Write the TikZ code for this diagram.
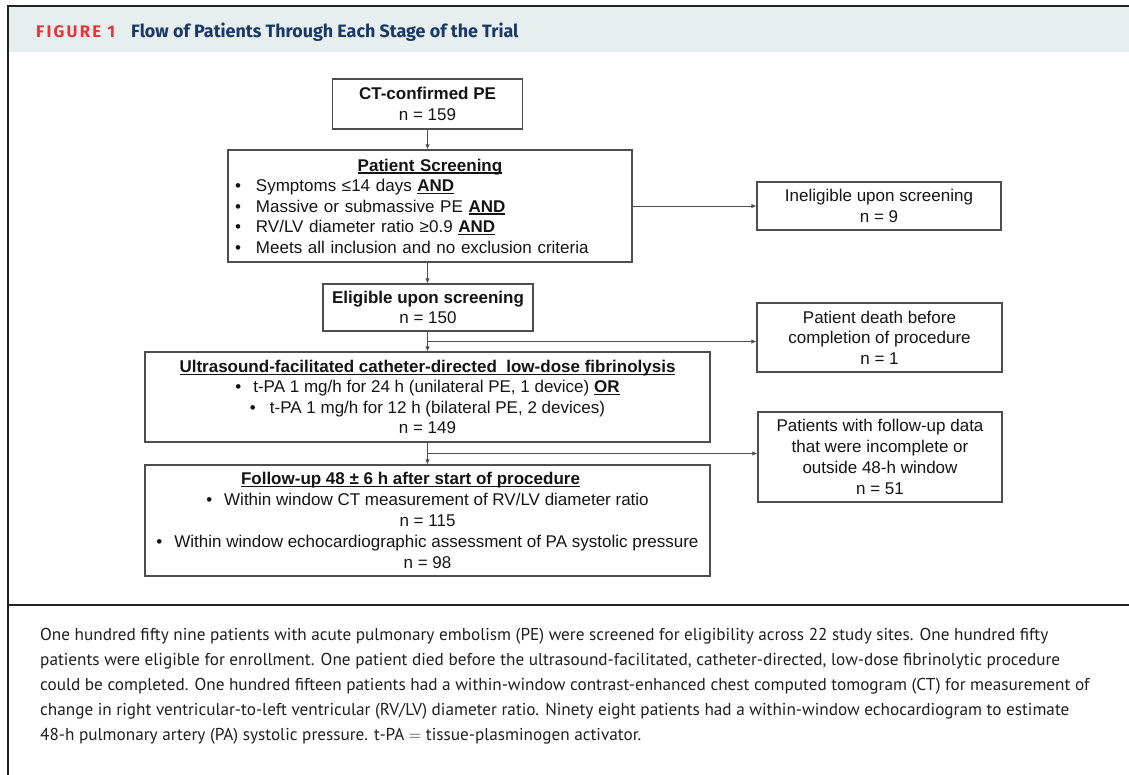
\documentclass[tikz,border=0pt]{standalone}
\usepackage{fontspec}
\setmainfont{Liberation Sans}
\newfontfamily\capfont{PT Sans}
\newfontfamily\headfont{Fira Sans}
\usetikzlibrary{arrows.meta,calc}
\definecolor{headbg}{HTML}{E6EFEE}
\definecolor{figred}{HTML}{E3363C}
\definecolor{navy}{HTML}{183865}
\definecolor{boxline}{HTML}{4E4E4E}
\definecolor{frameline}{HTML}{222222}
\newcommand{\myul}[1]{\setbox0\hbox{#1}\rlap{\rule[-2.6pt]{\wd0}{1.2pt}}\box0}
\begin{document}
\begin{tikzpicture}[x=1pt,y=-1pt,
  box/.style={draw=boxline, line width=1.1pt, inner sep=0pt, align=center,
    text=black!92, font=\fontsize{17}{20.5}\selectfont},
  conn/.style={draw=boxline, line width=0.9pt},
  arr/.style={conn, -{Latex[length=5pt,width=4.5pt]}},
  captext/.style={anchor=base west, inner sep=0pt, text=black!88,
    font=\capfont\fontsize{17.2}{25}\selectfont}]
\useasboundingbox (0,0) rectangle (1129,775);
\fill[white] (0,0) rectangle (1129,775);
% frame and header
\fill[headbg] (9,7) rectangle (1129,52);
\draw[frameline, line width=2pt] (8,6) -- (1129,6);
\draw[frameline, line width=2pt] (8,5) -- (8,775);
\draw[frameline, line width=2pt] (8,605) -- (1129,605);
\node[anchor=base west, inner sep=0pt, text=figred,
  font=\headfont\bfseries\fontsize{16.8}{18}\selectfont] (figlabel) at (36,37.5)
  {F\kern2.2pt I\kern2.2pt G\kern2.2pt U\kern2.2pt R\kern2.2pt E\kern2.2pt\ 1};
\node[anchor=base west, inner sep=0pt, text=navy,
  font=\headfont\bfseries\fontsize{17.9}{20}\selectfont] (figtitle) at (131,37.5)
  {Flow of Patients Through Each Stage of the Trial};
% boxes
\node[box, minimum width=190pt, minimum height=50pt] (ct) at (427.5,104)
  {{\bfseries CT-confirmed PE}\\n = 159};
\coordinate (axis) at (ct.south);
\node[box, text width=390pt, inner xsep=7pt, minimum height=112pt, align=left] (screen) at (430,206)
  {\makebox[390pt][c]{\bfseries\myul{Patient Screening}}\\
   \makebox[21pt][l]{\textbullet}Symptoms ≤14 days {\bfseries\myul{AND}}\\
   \makebox[21pt][l]{\textbullet}Massive or submassive PE {\bfseries\myul{AND}}\\
   \makebox[21pt][l]{\textbullet}RV/LV diameter ratio ≥0.9 {\bfseries\myul{AND}}\\
   \makebox[21pt][l]{\textbullet}Meets all inclusion and no exclusion criteria};
\node[box, minimum width=244pt, minimum height=48pt] (inel) at (879,206)
  {Ineligible upon screening\\n = 9};
\node[box, minimum width=210pt, minimum height=47pt] (elig) at (428,307.5)
  {{\bfseries Eligible upon screening}\\n = 150};
\node[box, minimum width=245pt, minimum height=69pt] (death) at (879.5,337.5)
  {Patient death before\\completion of procedure\\n = 1};
\node[box, minimum width=565pt, minimum height=90pt] (us) at (427.5,397)
  {{\bfseries\myul{Ultrasound-facilitated catheter-directed\ \ low-dose fibrinolysis}}\\
   \textbullet\hspace{12pt}t-PA 1 mg/h for 24 h (unilateral PE, 1 device) {\bfseries\myul{OR}}\hspace*{80pt}\\
   \textbullet\hspace{14pt}t-PA 1 mg/h for 12 h (bilateral PE, 2 devices)\hspace*{78pt}\\
   n = 149};
\node[box, minimum width=244pt, minimum height=90pt,
  font=\fontsize{17}{21}\selectfont] (pwf) at (880,457)
  {Patients with follow-up data\\that were incomplete or\\outside 48-h window\hspace*{24pt}\\n = 51};
\node[box, minimum width=565pt, minimum height=111pt,
  font=\fontsize{17}{21}\selectfont] (fu) at (427.5,520.5)
  {{\bfseries\myul{Follow-up 48 ± 6 h after start of procedure}}\hspace*{34pt}\\
   \textbullet\hspace{12pt}Within window CT measurement of RV/LV diameter ratio\\
   n = 115\\
   \textbullet\hspace{12pt}Within window echocardiographic assessment of PA systolic pressure\\
   n = 98};
% connectors
\coordinate (b1) at ($(axis |- elig.south)!0.5!(axis |- us.north)$);
\coordinate (b2) at ($(axis |- us.south)!0.5!(axis |- fu.north)$);
\draw[arr] (axis) -- (axis |- screen.north);
\draw[arr] (axis |- screen.south) -- (axis |- elig.north);
\draw[arr] (axis |- elig.south) -- (axis |- us.north);
\draw[arr] (axis |- us.south) -- (axis |- fu.north);
\draw[arr] (screen.east |- inel.west) -- (inel.west);
\draw[arr] (b1) -- (b1 -| death.west);
\draw[arr] (b2) -- (b2 -| pwf.west);
% caption
\node[captext] (cap1) at (40,640) {One hundred fifty nine patients with acute pulmonary embolism (PE) were screened for eligibility across 22 study sites. One hundred fifty};
\node[captext] (cap2) at (40,665) {patients were eligible for enrollment. One patient died before the ultrasound-facilitated, catheter-directed, low-dose fibrinolytic procedure};
\node[captext] (cap3) at (40,690) {could be completed. One hundred fifteen patients had a within-window contrast-enhanced chest computed tomogram (CT) for measurement of};
\node[captext] (cap4) at (40,715) {change in right ventricular-to-left ventricular (RV/LV) diameter ratio. Ninety eight patients had a within-window echocardiogram to estimate};
\node[captext] (cap5) at (40,740) {48-h pulmonary artery (PA) systolic pressure. t-PA $=$ tissue-plasminogen activator.};
\end{tikzpicture}
\end{document}
